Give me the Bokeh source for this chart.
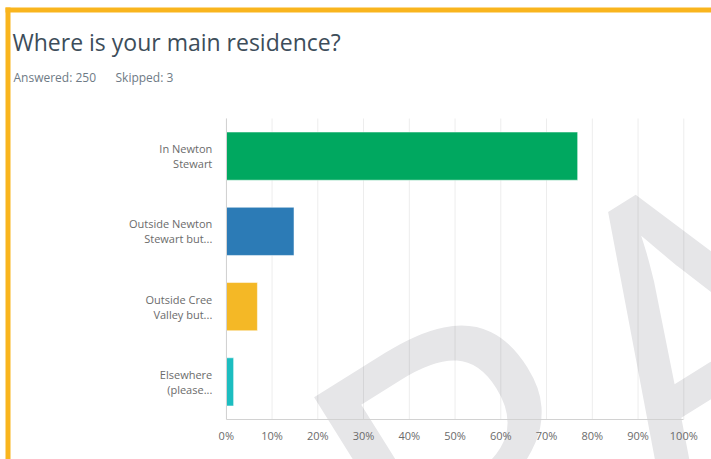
from bokeh.plotting import figure
from bokeh.models import (Range1d, FixedTicker, CustomJSTickFormatter,
                          Label, ColumnDataSource, BoxAnnotation)
from bokeh.embed import file_html
from bokeh.resources import INLINE

# ---- data -------------------------------------------------------------
title_text = "Where is your main residence?"
answered_text = "Answered: 250"
skipped_text = "Skipped: 3"
watermark_text = "DRAFT"
categories = ["In Newton\nStewart", "Outside Newton\nStewart but...",
              "Outside Cree\nValley but...", "Elsewhere\n(please..."]
percent = [76.8, 14.8, 6.8, 1.6]
colors = ["#00A860", "#2C7BB6", "#F4B826", "#1CBDC0"]
x_ticks = [0, 10, 20, 30, 40, 50, 60, 70, 80, 90, 100]

# ---- canvas geometry (frame covers whole canvas, axes pinned inside) ---
W, H = 711, 459
X0, PX_PER_PCT = 225.8, 4.575
Y_TOP, Y_BOT = 118, 419
n = len(categories)
py = (Y_BOT - Y_TOP) / n
WM_X, WM_Y = 646, 356           # watermark centre, canvas pixels

p = figure(width=W, height=H, output_backend="svg", toolbar_location=None,
           x_range=Range1d(-X0 / PX_PER_PCT, (W - X0) / PX_PER_PCT),
           y_range=Range1d(-(H - Y_BOT) / py, n + Y_TOP / py),
           min_border=0, min_border_left=0, min_border_right=0,
           min_border_top=0, min_border_bottom=0,
           outline_line_color=None, background_fill_color="white",
           border_fill_color="white")
p.title.visible = False
p.xgrid.visible = False
p.ygrid.visible = False

# watermark behind the chart
p.add_layout(Label(x=WM_X, y=H - WM_Y, x_units="screen", y_units="screen",
                   text=watermark_text, angle=32, angle_units="deg",
                   text_font="Open Sans", text_font_size="435px",
                   text_color="#e6e6e8", text_align="center",
                   text_baseline="middle", level="underlay"))

# grid lines within the category band
p.segment(x0=x_ticks, y0=[0] * len(x_ticks), x1=x_ticks, y1=[n] * len(x_ticks),
          line_color="black", line_alpha=0.075, line_width=1)

# bars
ypos = [n - i - 0.5 for i in range(n)]
src = ColumnDataSource(dict(y=ypos, pct=percent, color=colors))
p.hbar(y="y", right="pct", left=0, height=0.64, fill_color="color",
       line_color="white", line_alpha=0.5, line_width=1, source=src)

# axes pinned at the chart's origin
xa, ya = p.xaxis[0], p.yaxis[0]
xa.fixed_location = 0
ya.fixed_location = 0
xa.bounds = (0, 100)
ya.bounds = (0, n)
xa.ticker = FixedTicker(ticks=x_ticks)
xa.formatter = CustomJSTickFormatter(code="return tick + '%';")
ya.ticker = FixedTicker(ticks=ypos)
ya.formatter = CustomJSTickFormatter(args=dict(labels=categories),
                                     code="return labels[labels.length - 1 - Math.floor(tick)];")
for ax in (xa, ya):
    ax.axis_line_color = "#d2d2d2"
    ax.major_tick_line_color = None
    ax.minor_tick_line_color = None
    ax.major_tick_out = 0
    ax.major_tick_in = 0
    ax.major_label_text_font = "Open Sans"
    ax.major_label_text_font_size = "11px"
    ax.major_label_text_color = "#6b6b6b"
xa.major_label_standoff = 8
ya.major_label_standoff = 14
ya.major_label_text_line_height = 1.0

# title & subtitle
p.add_layout(Label(x=12, y=H - 41, x_units="screen", y_units="screen",
                   text=title_text, text_font="Open Sans", text_font_size="23px",
                   text_color="#3d4d5a", text_baseline="alphabetic"))
p.add_layout(Label(x=13, y=H - 77, x_units="screen", y_units="screen",
                   text=answered_text, text_font="Open Sans", text_font_size="12px",
                   text_color="#6e7a85", text_baseline="alphabetic"))
p.add_layout(Label(x=115, y=H - 77, x_units="screen", y_units="screen",
                   text=skipped_text, text_font="Open Sans", text_font_size="12px",
                   text_color="#6e7a85", text_baseline="alphabetic"))

# orange page border (top and left)
border = "#F9B51E"
p.add_layout(BoxAnnotation(left=5, right=W, top=H - 7, bottom=H - 12,
                           left_units="screen", right_units="screen",
                           top_units="screen", bottom_units="screen",
                           fill_color=border, fill_alpha=1, line_color=None))
p.add_layout(BoxAnnotation(left=5, right=10, top=H - 7, bottom=0,
                           left_units="screen", right_units="screen",
                           top_units="screen", bottom_units="screen",
                           fill_color=border, fill_alpha=1, line_color=None))

open("out.html", "w").write(file_html(p, INLINE))
